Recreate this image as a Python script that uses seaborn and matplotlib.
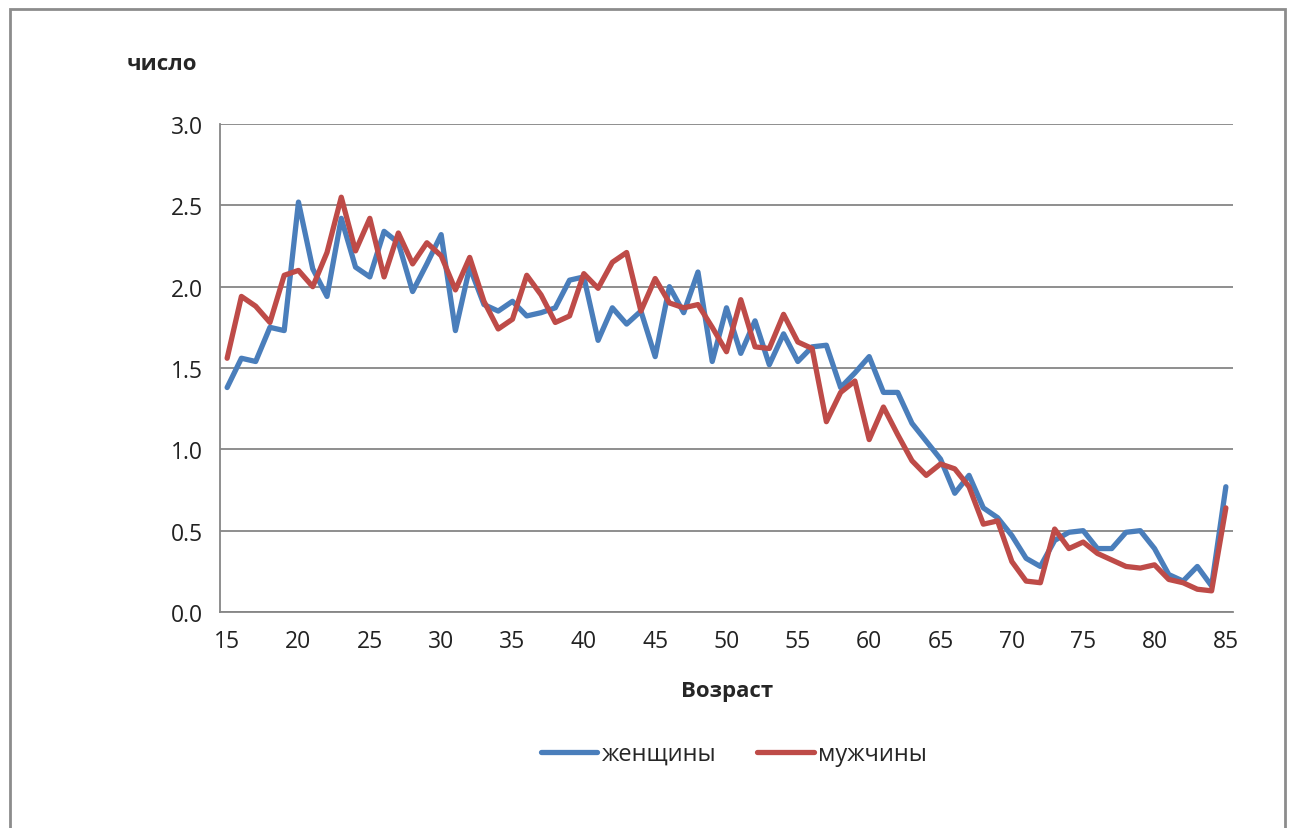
import numpy as np
import pandas as pd
import matplotlib
matplotlib.use('Agg')
import matplotlib.pyplot as plt
from matplotlib.patches import Rectangle
import seaborn as sns

# возраст 15..85
ages = list(range(15, 86))

women = [1.38, 1.56, 1.54, 1.75, 1.73, 2.52, 2.11, 1.94, 2.42, 2.12,
         2.06, 2.34, 2.27, 1.97, 2.14, 2.32, 1.73, 2.12, 1.89, 1.85,
         1.91, 1.82, 1.84, 1.87, 2.04, 2.06, 1.67, 1.87, 1.77, 1.85,
         1.57, 2.00, 1.84, 2.09, 1.54, 1.87, 1.59, 1.79, 1.52, 1.71,
         1.54, 1.63, 1.64, 1.38, 1.47, 1.57, 1.35, 1.35, 1.16, 1.05,
         0.94, 0.73, 0.84, 0.64, 0.58, 0.47, 0.33, 0.28, 0.44, 0.49,
         0.50, 0.39, 0.39, 0.49, 0.50, 0.39, 0.23, 0.19, 0.28, 0.16,
         0.77]

men = [1.56, 1.94, 1.88, 1.78, 2.07, 2.10, 2.00, 2.21, 2.55, 2.22,
       2.42, 2.06, 2.33, 2.14, 2.27, 2.19, 1.98, 2.18, 1.91, 1.74,
       1.80, 2.07, 1.95, 1.78, 1.82, 2.08, 1.99, 2.15, 2.21, 1.85,
       2.05, 1.90, 1.87, 1.89, 1.75, 1.60, 1.92, 1.63, 1.62, 1.83,
       1.66, 1.62, 1.17, 1.35, 1.42, 1.06, 1.26, 1.09, 0.93, 0.84,
       0.91, 0.88, 0.77, 0.54, 0.56, 0.31, 0.19, 0.18, 0.51, 0.39,
       0.43, 0.36, 0.32, 0.28, 0.27, 0.29, 0.20, 0.18, 0.14, 0.13,
       0.64]

series_names = ['женщины', 'мужчины']
colors = ['#4A7EBB', '#BE4B48']

df = pd.DataFrame({
    'Возраст': ages * 2,
    'число': women + men,
    'пол': [series_names[0]] * len(ages) + [series_names[1]] * len(ages),
})

sns.set_style('white')
plt.rcParams['font.family'] = ['Open Sans', 'DejaVu Sans']

fig = plt.figure(figsize=(12.9, 8.29), dpi=100)
ax = fig.add_axes([220 / 1290, 1 - 613 / 829, (1233 - 220) / 1290, (613 - 125) / 829])

sns.lineplot(data=df, x='Возраст', y='число', hue='пол', palette=colors,
             linewidth=3.8, ax=ax, legend=True)

ax.set_xlim(14.5, 85.5)
ax.set_ylim(0, 3.0)
ax.set_yticks(np.arange(0, 3.01, 0.5))
ax.set_yticklabels([f'{v:.1f}' for v in np.arange(0, 3.01, 0.5)])
ax.set_xticks(range(15, 86, 5))
ax.set_xticks(np.arange(14.5, 85, 5), minor=True)
ax.tick_params(axis='x', which='major', length=0, pad=12, labelsize=16.5, colors='#222222')
ax.tick_params(axis='x', which='minor', length=6, width=1.3, color='#868686', direction='out')
ax.tick_params(axis='y', length=0, pad=12, labelsize=16.5, colors='#222222')

ax.grid(axis='y', color='#868686', linewidth=1.3)
ax.set_axisbelow(True)
for side in ['top', 'right']:
    ax.spines[side].set_visible(False)
for side in ['left', 'bottom']:
    ax.spines[side].set_color('#868686')
    ax.spines[side].set_linewidth(1.3)

ax.set_xlabel('')
ax.set_ylabel('')
fig.text(727 / 1290, 1 - 692 / 829, 'Возраст', ha='center', va='center',
         fontsize=16, fontweight='bold')
fig.text(127 / 1290, 1 - 65 / 829, 'число', ha='left', va='center',
         fontsize=16, fontweight='bold')

handles, labels = ax.get_legend_handles_labels()
ax.legend_.remove()
fig.legend(handles, labels, loc='center', bbox_to_anchor=(734 / 1290, 1 - 755 / 829),
           ncol=2, frameon=False, fontsize=17, handlelength=2.4, handletextpad=0.2,
           columnspacing=1.7)

fig.patches.append(Rectangle((10 / 1290, -0.02), (1285 - 10) / 1290, 1 - 10 / 829 + 0.02,
                             transform=fig.transFigure, fill=False,
                             edgecolor='#8c8c8c', linewidth=2))

fig.savefig('out.png', dpi=100)
